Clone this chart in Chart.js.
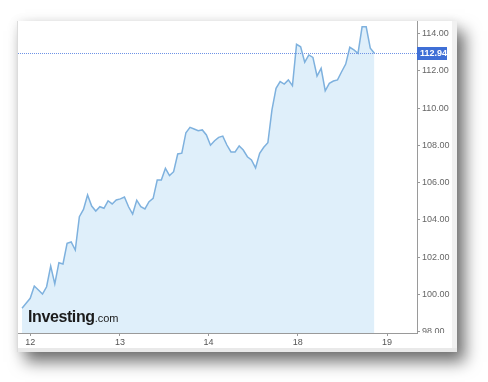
<!DOCTYPE html>
<html>
<head>
<meta charset="utf-8">
<script src="https://cdn.jsdelivr.net/npm/chart.js@4.4.1/dist/chart.umd.min.js"></script>
<style>
  body { margin: 0; background: #fff; width: 488px; height: 382px; overflow: hidden; position: relative; font-family: "Liberation Sans", Arial, sans-serif; }
  #card { position: absolute; left: 17px; top: 21px; width: 439px; height: 331px; background: #fff;
          border-left: 1px solid #dcdcdc;
          box-shadow: 8px 10px 15px rgba(0,0,0,0.55), 0 0 10px rgba(0,0,0,0.08); }
  #grafico { position: absolute; left: 0; top: 0; }
  #banda { position: absolute; left: 0; top: 327px; width: 439px; height: 4px; background: #e9e9e9; }
  #tira { position: absolute; right: 0; top: 0; width: 5px; height: 327px; background: #f1f1f1; }
  #marca { position: absolute; left: 10px; top: 287px; color: #1b1b1b; white-space: nowrap; }
  #marca b { font-size: 16px; font-weight: bold; letter-spacing: -0.4px; }
  #marca span { font-size: 11px; }
</style>
</head>
<body>
<div id="card">
  <canvas id="grafico" width="439" height="327"></canvas>
  <div id="tira"></div>
  <div id="banda"></div>
  <div id="marca"><b>Investing</b><span>.com</span></div>
</div>
<script>
// precios (puntos equiespaciados)
const precios = [
  99.27, 99.53, 99.80, 100.46, 100.25, 100.03, 100.42, 101.53, 100.57, 101.71,
  101.64, 102.75, 102.82, 102.39, 104.18, 104.57, 105.34, 104.75, 104.48, 104.71,
  104.63, 105.03, 104.86, 105.07, 105.13, 105.23, 104.71, 104.32, 105.06, 104.71,
  104.59, 104.98, 105.16, 106.14, 106.14, 106.77, 106.38, 106.59, 107.54, 107.58,
  108.68, 108.97, 108.88, 108.79, 108.83, 108.56, 108.01, 108.25, 108.43, 108.50,
  108.02, 107.65, 107.65, 107.97, 107.75, 107.39, 107.22, 106.79, 107.58, 107.90,
  108.14, 109.90, 111.06, 111.42, 111.29, 111.51, 111.20, 113.42, 113.29, 112.46,
  112.85, 112.72, 111.72, 112.13, 110.93, 111.33, 111.45, 111.51, 111.95, 112.36,
  113.26, 113.12, 112.94, 114.36, 114.36, 113.21, 112.94
];
const ultimoPrecio = 112.94;

// eje x: posicion (en indice de punto) y etiqueta de cada dia
const posDias = [2.03, 23.9, 45.5, 67.3, 89.1];
const etiquetasDias = ["12", "13", "14", "18", "19"];
const ticksY = [98, 100, 102, 104, 106, 108, 110, 112, 114];

const puntos = precios.map((v, i) => ({ x: i, y: v }));

const sinPadding = (s) => {
  s.paddingTop = 0; s.paddingBottom = 0; s.paddingLeft = 0; s.paddingRight = 0;
};

const lineaPrecio = {
  id: "lineaPrecio",
  afterDraw(chart) {
    const { ctx, chartArea } = chart;
    const y = Math.round(chart.scales.y.getPixelForValue(ultimoPrecio));
    ctx.save();
    ctx.strokeStyle = "#6f93e6";
    ctx.lineWidth = 1;
    ctx.setLineDash([1, 1]);
    ctx.beginPath();
    ctx.moveTo(chartArea.left, y + 0.5);
    ctx.lineTo(chartArea.right, y + 0.5);
    ctx.stroke();
    ctx.setLineDash([]);
    // recuadro del precio
    ctx.fillStyle = "#3f6fd6";
    ctx.fillRect(chartArea.right, y - 6, 30, 13);
    ctx.fillStyle = "#fff";
    ctx.font = "bold 9px 'Liberation Sans', Arial";
    ctx.textBaseline = "middle";
    ctx.fillText(ultimoPrecio.toFixed(2), chartArea.right + 3, y + 1);
    // tapa la parte baja de la ultima etiqueta (98.00)
    ctx.fillStyle = "#fff";
    ctx.fillRect(chartArea.right + 5, chartArea.bottom, 30, 14);
    ctx.restore();
  }
};

const config = {
  type: "line",
  data: {
    datasets: [{
      data: puntos,
      borderColor: "#7eb1de",
      backgroundColor: "#dfeffa",
      borderWidth: 1.5,
      pointRadius: 0,
      tension: 0,
      fill: "start"
    }]
  },
  options: {
    responsive: false,
    animation: false,
    layout: { padding: 0 },
    plugins: { legend: { display: false }, tooltip: { enabled: false } },
    scales: {
      x: {
        type: "linear",
        min: -0.98,
        max: 96.4,
        afterBuildTicks: (s) => { s.ticks = posDias.map(v => ({ value: v })); },
        afterFit: (s) => { s.height = 15; sinPadding(s); },
        ticks: {
          callback: (v, i) => etiquetasDias[i],
          color: "#555",
          font: { size: 9, family: "'Liberation Sans', Arial" },
          padding: 1,
          maxRotation: 0,
          autoSkip: false
        },
        grid: { drawOnChartArea: false, drawTicks: true, tickLength: 3, color: "#999" },
        border: { display: true, color: "#9a9a9a" }
      },
      y: {
        position: "right",
        min: 97.94,
        max: 114.67,
        afterBuildTicks: (s) => { s.ticks = ticksY.map(v => ({ value: v })); },
        afterFit: (s) => { s.width = 40; sinPadding(s); },
        ticks: {
          callback: (v) => v.toFixed(2),
          color: "#666",
          font: { size: 9, family: "'Liberation Sans', Arial" },
          padding: 2
        },
        grid: { drawOnChartArea: false, drawTicks: true, tickLength: 3, color: "#999" },
        border: { display: true, color: "#9a9a9a" }
      }
    }
  },
  plugins: [lineaPrecio]
};

const canvas = document.getElementById("grafico");
const ctx = canvas.getContext("2d");
const miGrafico = new Chart(ctx, config);
</script>
</body>
</html>
